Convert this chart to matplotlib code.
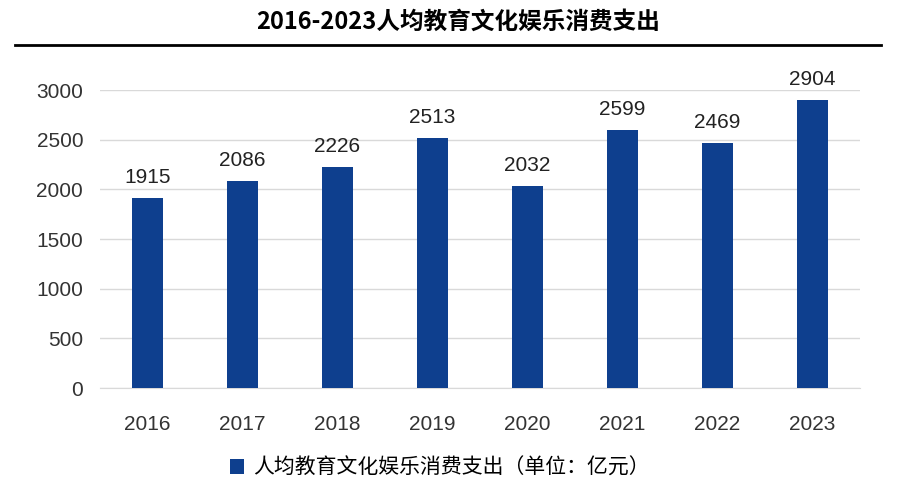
import matplotlib
matplotlib.use("Agg")
import matplotlib.pyplot as plt
from matplotlib.lines import Line2D

plt.rcParams['font.family'] = ['Noto Sans CJK SC', 'DejaVu Sans']

years = ["2016", "2017", "2018", "2019", "2020", "2021", "2022", "2023"]
values = [1915, 2086, 2226, 2513, 2032, 2599, 2469, 2904]
title = "2016-2023人均教育文化娱乐消费支出"
legend_label = "人均教育文化娱乐消费支出（单位：亿元）"
color = "#0E3F8E"

fig = plt.figure(figsize=(9.16, 4.84), dpi=100)
ax = fig.add_axes([0.109, 0.198, 0.830, 0.616])
x = range(len(years))
bars = ax.bar(x, values, width=0.32, color=color, zorder=3, label=legend_label)
for xi, v in zip(x, values):
    ax.text(xi, v + 110, str(v), ha='center', va='bottom', fontsize=15, family='Liberation Sans', color='#222222')
ax.set_xticks(list(x))
ax.set_xticklabels(years, fontsize=15, family='Liberation Sans', color='#333333')
ax.set_xlim(-0.5, len(years) - 0.5)
ax.set_ylim(0, 3000)
ax.set_yticks(range(0, 3001, 500))
ax.set_yticklabels([str(t) for t in range(0, 3001, 500)], fontsize=15, family='Liberation Sans', color='#333333')
ax.grid(axis='y', color='#D9D9D9', linewidth=1, zorder=0)
for s in ['top', 'right', 'left']:
    ax.spines[s].set_visible(False)
ax.spines['bottom'].set_color('#D9D9D9')
ax.tick_params(axis='x', length=0, pad=19)
ax.tick_params(axis='y', length=0, pad=12)

fig.text(0.5, 0.955, title, ha='center', va='center', fontsize=17, fontweight='bold')
fig.add_artist(Line2D([0.016, 0.962], [0.907, 0.907], color='black', linewidth=2, transform=fig.transFigure))

fig.legend(handles=[bars], labels=[legend_label], loc='center', bbox_to_anchor=(0.48, 0.033),
           frameon=False, fontsize=15, handlelength=0.7, handleheight=0.7, handletextpad=0.4)

fig.savefig("out.png", dpi=100)
